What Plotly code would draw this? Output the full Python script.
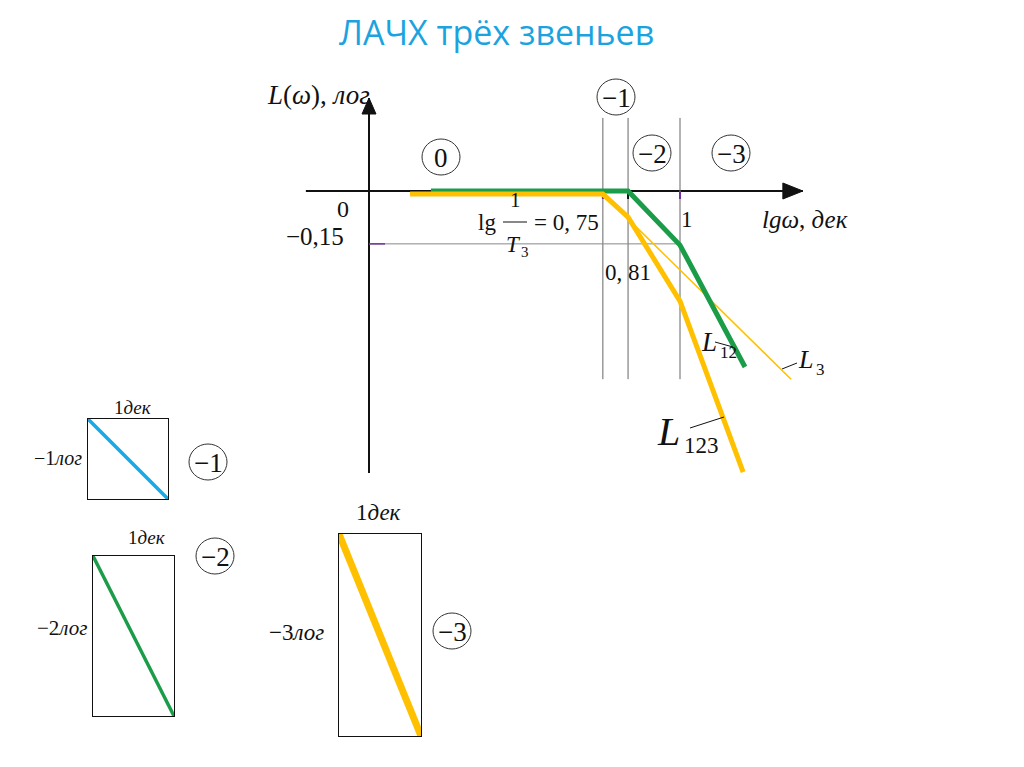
import plotly.graph_objects as go

OFF = 8                       # page body margin of the rendered html
W, H = 1024 - OFF, 767 - OFF
X0_PX, Y0_PX, S = 369, 191, 311   # origin pixel (in window) and pixels per unit

# ---- main diagram data (x: lg w, dec ; y: L, log) ----
green_x = [0.199, 0.833, 1.0, 1.209]          # L12
green_y = [0.0, 0.0, -0.174, -0.566]
l123_x = [0.132, 0.752, 0.833, 1.0, 1.203]    # L123
l123_y = [-0.01, -0.01, -0.084, -0.354, -0.904]
l3_x = [0.752, 1.357]                          # L3
l3_y = [-0.01, -0.605]
break_x = [0.752, 0.833, 1.0]                  # vertical guide lines
guide_top, guide_bottom = 0.235, -0.605
level_y = -0.17                                # -0,15 level line
xaxis_span = [-0.203, 1.395]
yaxis_span = [-0.907, 0.299]

# ---- inset slope boxes ----
slopes = [-1, -2, -3]
slope_colors = ["#1aa9e6", "#1a9c48", "#ffc000"]
slope_widths = [3.5, 3.5, 7]

SERIF = "Liberation Serif"
BLACK = "#111111"
GREEN = "#1a9c48"
ORANGE = "#ffc000"

def px(xp):
    return (xp - OFF) / W

def py(yp):
    return 1 - (yp - OFF) / H

fig = go.Figure()

# axes lines
fig.add_trace(go.Scatter(x=xaxis_span, y=[0, 0], mode="lines",
                         line=dict(color=BLACK, width=2), hoverinfo="skip"))
fig.add_trace(go.Scatter(x=[0, 0], y=yaxis_span, mode="lines",
                         line=dict(color=BLACK, width=2), hoverinfo="skip"))
# arrow heads
ax_tip = xaxis_span[1]
fig.add_trace(go.Scatter(x=[ax_tip, ax_tip - 20 / S, ax_tip - 20 / S, ax_tip],
                         y=[0, 8 / S, -8 / S, 0], mode="lines", fill="toself",
                         fillcolor=BLACK, line=dict(color=BLACK, width=1), hoverinfo="skip"))
ay_tip = yaxis_span[1]
fig.add_trace(go.Scatter(x=[0, 7 / S, -7 / S, 0],
                         y=[ay_tip, ay_tip - 16 / S, ay_tip - 16 / S, ay_tip], mode="lines",
                         fill="toself", fillcolor=BLACK, line=dict(color=BLACK, width=1),
                         hoverinfo="skip"))

# guide lines
for bx in break_x:
    fig.add_trace(go.Scatter(x=[bx, bx], y=[guide_top, guide_bottom], mode="lines",
                             line=dict(color="#666666", width=1), hoverinfo="skip"))
fig.add_trace(go.Scatter(x=[0, break_x[2]], y=[level_y, level_y], mode="lines",
                         line=dict(color="#888888", width=1), hoverinfo="skip"))
fig.add_trace(go.Scatter(x=[0, 16 / S], y=[level_y, level_y], mode="lines",
                         line=dict(color="#7030a0", width=1.5), hoverinfo="skip"))
for bx, col in zip(break_x, ["#7030a0", BLACK, "#7030a0"]):
    fig.add_trace(go.Scatter(x=[bx, bx], y=[0, -8 / S], mode="lines",
                             line=dict(color=col, width=2), hoverinfo="skip"))

# curves
fig.add_trace(go.Scatter(x=l3_x, y=l3_y, mode="lines",
                         line=dict(color=ORANGE, width=1.5), hoverinfo="skip"))
fig.add_trace(go.Scatter(x=green_x, y=green_y, mode="lines",
                         line=dict(color=GREEN, width=5), hoverinfo="skip"))
fig.add_trace(go.Scatter(x=l123_x, y=l123_y, mode="lines",
                         line=dict(color=ORANGE, width=5), hoverinfo="skip"))

# inset boxes
box_px = [(88, 168, 419, 499), (93, 174, 556, 716), (339, 421, 534, 736)]
for i, (s, col, w, (l, r, t, b)) in enumerate(zip(slopes, slope_colors, slope_widths, box_px)):
    n = i + 2
    fig.add_trace(go.Scatter(x=[0, 1], y=[0, s], mode="lines",
                             line=dict(color=col, width=w), hoverinfo="skip",
                             xaxis=f"x{n}", yaxis=f"y{n}", cliponaxis=False))
    common = dict(showline=True, mirror=True, linecolor=BLACK, linewidth=1,
                  showgrid=False, zeroline=False, showticklabels=False, ticks="")
    fig.update_layout(**{
        f"xaxis{n}": dict(domain=[px(l), px(r)], range=[0, 1], anchor=f"y{n}", **common),
        f"yaxis{n}": dict(domain=[py(b), py(t)], range=[s, 0], anchor=f"x{n}", **common),
    })

fig.update_layout(
    width=W, height=H, margin=dict(l=0, r=0, t=0, b=0),
    paper_bgcolor="white", plot_bgcolor="rgba(0,0,0,0)", showlegend=False,
    xaxis=dict(domain=[0, 1], range=[-(X0_PX - OFF) / S, (W - (X0_PX - OFF)) / S],
               visible=False),
    yaxis=dict(domain=[0, 1], range=[(Y0_PX - OFF - H) / S, (Y0_PX - OFF) / S],
               visible=False),
)

anns = []

def ann(text, xp, yp, size, family=SERIF, color=BLACK, xanchor="center"):
    anns.append(dict(text=text, x=px(xp), y=py(yp), xref="paper", yref="paper",
                     showarrow=False, xanchor=xanchor, yanchor="middle",
                     font=dict(family=family, size=size, color=color)))

shapes = []

def seg(x0, y0, x1, y1, color=BLACK, width=1):
    shapes.append(dict(type="line", xref="paper", yref="paper",
                       x0=px(x0), y0=py(y0), x1=px(x1), y1=py(y1),
                       line=dict(color=color, width=width)))

def circ(cx, cy, label, rx=19, ry=18):
    shapes.append(dict(type="circle", xref="paper", yref="paper",
                       x0=px(cx - rx), x1=px(cx + rx), y0=py(cy + ry), y1=py(cy - ry),
                       line=dict(color="#333333", width=1)))
    ann(label, cx, cy + 1, 27)

# title
ann("ЛАЧХ трёх звеньев", 496, 32, 34, family="Open Sans", color="#1ba3e0")

# main labels
ann("<i>L</i>(<i>ω</i>), <i>лог</i>", 318, 95, 27)
ann("0", 343, 209, 24)
ann("−0,15", 346, 236, 25, xanchor="right")
ann("lg", 487, 222, 23)
ann("1", 515, 200, 21)
seg(503, 222, 527, 222)
ann("<i>T</i>", 513, 244, 23)
ann("3", 525, 252, 15)
ann("= 0, 75", 532, 222, 23, xanchor="left")
ann("0, 81", 628, 272, 23)
ann("1", 687, 219, 23)
ann("<i>lgω</i>, <i>дек</i>", 760, 220, 25, xanchor="left")

circ(441, 157, "0")
circ(616, 97, "−1")
circ(652, 153, "−2")
circ(731, 153, "−3")

# curve labels (letter and subscript placed side by side)
ann("<i>L</i>", 709, 342, 27, xanchor="right" if False else "center")
ann("12", 718, 352, 17, xanchor="left")
seg(715, 342, 733, 347)
ann("<i>L</i>", 805, 359, 26)
ann("3", 814, 369, 17, xanchor="left")
seg(782, 369, 797, 363)
ann("<i>L</i>", 668, 431, 40)
ann("123", 682, 445, 23, xanchor="left")
seg(690, 428, 724, 417)

# inset labels
ann("1<i>дек</i>", 133, 407, 19)
ann("−1<i>лог</i>", 58, 458, 20)
circ(208, 462, "−1")
ann("1<i>дек</i>", 147, 537, 19)
ann("−2<i>лог</i>", 62, 628, 21)
circ(215, 556, "−2")
ann("1<i>дек</i>", 378, 512, 23)
ann("−3<i>лог</i>", 296, 632, 23)
circ(452, 631, "−3")

fig.update_layout(annotations=anns, shapes=shapes)
fig.write_html("out.html")
